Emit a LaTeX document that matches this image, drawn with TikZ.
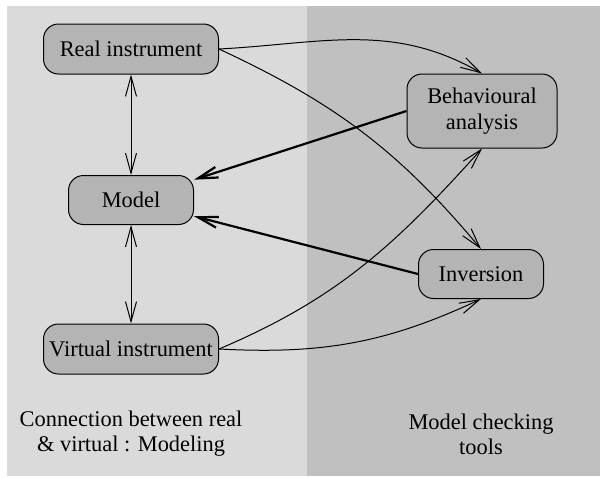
\documentclass[tikz,border=0pt]{standalone}
\usepackage{fontspec}
\newfontfamily\diagserif{Liberation Serif}
\usetikzlibrary{arrows.meta}
\definecolor{lightpanel}{RGB}{218,218,218}
\definecolor{darkpanel}{RGB}{192,192,192}
\definecolor{boxfill}{RGB}{180,180,180}
\tikzset{
  box/.style={draw=black, line width=0.5pt, fill=boxfill, rounded corners=7.5pt,
    inner sep=0pt, align=center, font=\diagserif\fontsize{11.2}{13}\selectfont},
  lbl/.style={align=center, inner sep=0pt, font=\diagserif\fontsize{11.2}{12.5}\selectfont},
  thin/.style={line width=0.5pt, -{Straight Barb[length=10pt,width=5.5pt]}},
  both/.style={line width=0.5pt, {Straight Barb[length=10pt,width=5.5pt]}-{Straight Barb[length=10pt,width=5.5pt]}},
  thick/.style={line width=1.1pt, -{Straight Barb[length=10pt,width=5.5pt]}}
}
\begin{document}
\begin{tikzpicture}[x=0.5pt,y=-0.5pt]
\useasboundingbox (0,0) rectangle (600,477);
\fill[lightpanel] (7,6) rectangle (307,476);
\fill[darkpanel] (307,6) rectangle (600,476);
\node[box, minimum width=87.5pt, minimum height=25pt] (real) at (131,49) {Real instrument};
\node[box, minimum width=62.5pt, minimum height=24.5pt] (model) at (131,200) {Model};
\node[box, minimum width=87.5pt, minimum height=25pt] (virt) at (131,349) {Virtual instrument};
\node[box, minimum width=75pt, minimum height=37pt] (beh) at (482,111) {Behavioural\\analysis};
\node[box, minimum width=62.5pt, minimum height=24.5pt] (inv) at (481,274) {Inversion};
\node[lbl] (t1) at (131,434) {Connection between real\\\& virtual : Modeling};
\node[lbl] (t2) at (481,434) {Model checking\\tools};
\draw[both] (real) -- (model);
\draw[both] (model) -- (virt);
\draw[thin] (real.east) to[out=3,in=150] (beh.north);
\draw[thin] (real.east) to[out=-25,in=130] (inv.north);
\draw[thin] (virt.east) to[out=23,in=228] (beh.south);
\draw[thin] (virt.east) to[out=-3,in=205] (inv.south);
\draw[thick] (beh.west) -- (model);
\draw[thick] (inv.west) -- (model);
\end{tikzpicture}
\end{document}
